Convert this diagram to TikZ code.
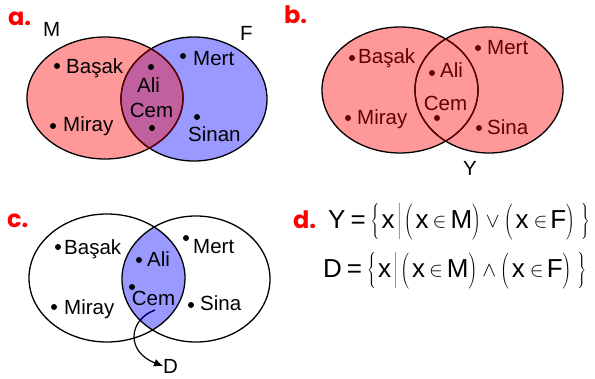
\documentclass[tikz,border=0pt]{standalone}
\usepackage{fontspec}
\setmainfont{Liberation Sans}
\newfontfamily\labfont{Poppins}
\usetikzlibrary{arrows.meta}
\definecolor{pinkA}{HTML}{FF9999}
\definecolor{blueA}{HTML}{9999FF}
\definecolor{purpA}{HTML}{C0609F}
\definecolor{maroonA}{HTML}{600000}
\definecolor{navyA}{HTML}{000080}
\newcommand\lbd[1]{$\left#1\vrule height18pt depth11pt width0pt\right.$}
\newcommand\rbd[1]{$\left.\vrule height18pt depth11pt width0pt\right#1$}
\newcommand\smsym[1]{\raisebox{1pt}{\fontsize{22}{24}\selectfont$#1$}}
\begin{document}
\begin{tikzpicture}[x=1pt,y=-1pt,
  lab/.style={font=\fontsize{20.5}{24}\selectfont, inner sep=0pt},
  dotm/.style={circle, fill, inner sep=0pt, minimum size=6pt},
  plab/.style={font={\fontsize{24}{28}\labfont\bfseries}, text=red, inner sep=0pt, anchor=base west},
  frm/.style={font=\fontsize{26}{30}\selectfont, inner sep=0pt, anchor=base west},
  ell/.style={line width=1.3pt}]
\useasboundingbox (0,0) rectangle (595,378);
\nulldelimiterspace=0pt
% ---------------- panel a
\fill[pinkA] (105,98) ellipse [x radius=78pt, y radius=61pt];
\fill[blueA] (194,99) ellipse [x radius=73pt, y radius=62pt];
\begin{scope}
  \clip (105,98) ellipse [x radius=78pt, y radius=61pt];
  \fill[purpA] (194,99) ellipse [x radius=73pt, y radius=62pt];
\end{scope}
\draw[ell] (105,98) ellipse [x radius=78pt, y radius=61pt];
\draw[ell] (194,99) ellipse [x radius=73pt, y radius=62pt];
\begin{scope}
  \clip (105,98) ellipse [x radius=78pt, y radius=61pt];
  \draw[ell, maroonA] (194,99) ellipse [x radius=73pt, y radius=62pt];
\end{scope}
\begin{scope}
  \clip (194,99) ellipse [x radius=73pt, y radius=62pt];
  \draw[ell, maroonA] (105,98) ellipse [x radius=78pt, y radius=61pt];
\end{scope}
\node[plab] (la) at (8,25) {a.};
\node[lab, anchor=base west] (aM) at (43,36) {M};
\node[lab, anchor=base west] (aF) at (240,40) {F};
\node[dotm] (ad1) at (57,66) {};
\node[lab, anchor=base west] (abas) at (66,73) {Başak};
\node[dotm] (ad2) at (53,126) {};
\node[lab, anchor=base west] (amir) at (63,131) {Miray};
\node[dotm] (ad3) at (151,67) {};
\node[lab, anchor=base] (aali) at (148.5,92) {Ali};
\node[lab, anchor=base] (acem) at (151.5,117) {Cem};
\node[dotm] (ad4) at (152,128) {};
\node[dotm] (ad5) at (183,56) {};
\node[lab, anchor=base west] (amer) at (193,65) {Mert};
\node[dotm] (ad6) at (197,117) {};
\node[lab, anchor=base west] (asin) at (188,141) {Sinan};
% ---------------- panel b
\fill[pinkA] (400,90) ellipse [x radius=78pt, y radius=63pt];
\fill[pinkA] (489,90) ellipse [x radius=74pt, y radius=63pt];
\draw[ell] (400,90) ellipse [x radius=78pt, y radius=63pt];
\draw[ell] (489,90) ellipse [x radius=74pt, y radius=63pt];
\begin{scope}
  \clip (400,90) ellipse [x radius=78pt, y radius=63pt];
  \draw[ell, maroonA] (489,90) ellipse [x radius=74pt, y radius=63pt];
\end{scope}
\begin{scope}
  \clip (489,90) ellipse [x radius=74pt, y radius=63pt];
  \draw[ell, maroonA] (400,90) ellipse [x radius=78pt, y radius=63pt];
\end{scope}
\node[plab] (lb) at (284,23) {b.};
\begin{scope}[every node/.append style={text=maroonA}, dotm/.append style={fill=maroonA}]
\node[dotm] (bd1) at (352,58) {};
\node[lab, anchor=base west] (bbas) at (358,63) {Başak};
\node[dotm] (bd2) at (348,118) {};
\node[lab, anchor=base west] (bmir) at (357,124) {Miray};
\node[dotm] (bd3) at (432,73) {};
\node[lab, anchor=base west] (bali) at (440,77) {Ali};
\node[lab, anchor=base] (bcem) at (445.5,110) {Cem};
\node[dotm] (bd4) at (437,118) {};
\node[dotm] (bd5) at (478,48) {};
\node[lab, anchor=base west] (bmer) at (487,54) {Mert};
\node[dotm] (bd6) at (479,128) {};
\node[lab, anchor=base west] (bsin) at (487,134) {Sina};
\end{scope}
\node[lab, anchor=base] (bY) at (470,175) {Y};
% ---------------- panel c
\begin{scope}
  \clip (107,278) ellipse [x radius=78pt, y radius=64pt];
  \fill[blueA] (196,279) ellipse [x radius=74pt, y radius=63pt];
\end{scope}
\draw[ell] (107,278) ellipse [x radius=78pt, y radius=64pt];
\draw[ell] (196,279) ellipse [x radius=74pt, y radius=63pt];
\node[plab] (lc) at (7,227) {c.};
\node[dotm] (cd1) at (58,247) {};
\node[lab, anchor=base west] (cbas) at (64,254) {Başak};
\node[dotm] (cd2) at (54,307) {};
\node[lab, anchor=base west] (cmir) at (64,314) {Miray};
\node[dotm] (cd3) at (139,260) {};
\node[lab, anchor=base west] (cali) at (147,266) {Ali};
\node[dotm] (cd4) at (132,287) {};
\node[lab, anchor=base] (ccem) at (153.5,305) {Cem};
\node[dotm] (cd5) at (186,238) {};
\node[lab, anchor=base west] (cmer) at (193,253) {Mert};
\node[dotm] (cd6) at (191,305) {};
\node[lab, anchor=base west] (csin) at (200,310) {Sina};
\node[lab, anchor=base west] (cD) at (163,373) {D};
\coordinate (cs) at (155,310);
\draw[line width=1.2pt, -{Latex[length=9pt,width=8pt]}] (cs) .. controls (128,320) and (126,352) .. (cD.west);
\begin{scope}
  \clip (107,278) ellipse [x radius=78pt, y radius=64pt];
  \clip (196,279) ellipse [x radius=74pt, y radius=63pt];
  \draw[line width=1.2pt, navyA] (cs) .. controls (128,320) and (126,352) .. (cD.west);
\end{scope}
% ---------------- panel d
\node[plab] (ld) at (293,228) {d.};
\node[frm] (fY) at (328,228)
  {Y\hspace{5pt}=\hspace{5pt}\lbd\{\hspace{2pt}x\hspace{3pt}\lbd|\hspace{3pt}\lbd(\hspace{3pt}x\hspace{4pt}\smsym{\in}\hspace{4pt}M\rbd)\hspace{5pt}\smsym{\vee}\hspace{4pt}\lbd(\hspace{3pt}x\hspace{5pt}\smsym{\in}\hspace{3pt}F\rbd)\hspace{6pt}\rbd\}};
\node[frm] (fD) at (323,277)
  {D\hspace{5pt}=\hspace{5pt}\lbd\{\hspace{2pt}x\hspace{3pt}\lbd|\hspace{3pt}\lbd(\hspace{3pt}x\hspace{4pt}\smsym{\in}\hspace{4pt}M\rbd)\hspace{5pt}\smsym{\wedge}\hspace{4pt}\lbd(\hspace{3pt}x\hspace{5pt}\smsym{\in}\hspace{3pt}F\rbd)\hspace{6pt}\rbd\}};
\end{tikzpicture}
\end{document}
